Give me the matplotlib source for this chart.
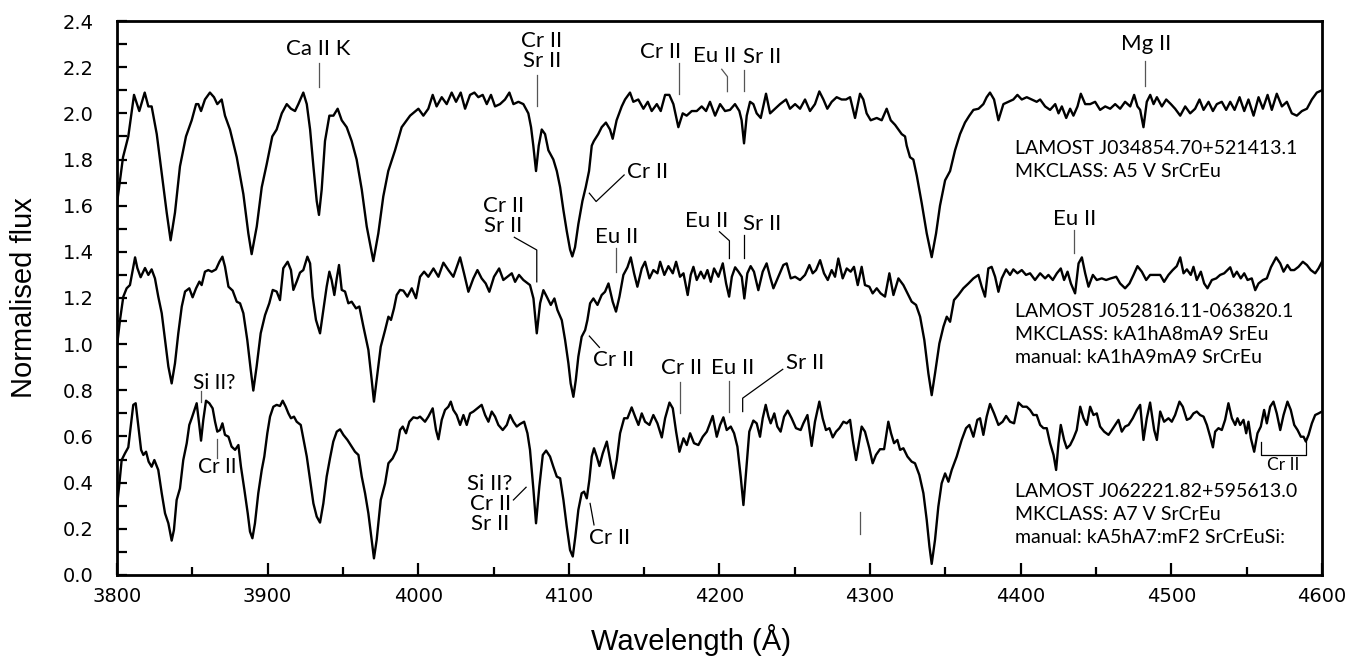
import matplotlib
matplotlib.use("Agg")
import matplotlib.pyplot as plt
from matplotlib.ticker import MultipleLocator, FormatStrFormatter

# Espectro superior: LAMOST J034854.70+521413.1
wl1 = [3800, 3804, 3807.5, 3811.3, 3814.8, 3818.4, 3820.8, 3823, 3826.4, 3829.7, 3833, 3835.6,
       3838.5, 3841.8, 3845.8, 3849.6, 3852.5, 3854, 3855.8, 3858.4, 3861.7, 3864.4, 3866.6, 3869.5,
       3871.7, 3875, 3879.5, 3883.9, 3887.2, 3889.4, 3892.8, 3896.1, 3899.4, 3903.1, 3906, 3909.4,
       3912.7, 3915.5, 3918.2, 3920.4, 3923.7, 3926, 3928.2, 3930.4, 3932.6, 3934.1, 3935.9, 3938.1,
       3941, 3943.7, 3946.5, 3949.2, 3952.5, 3955.8, 3959.1, 3962.5, 3965.8, 3970.2, 3973.5, 3976.8,
       3980.1, 3984.6, 3989, 3994.6, 4000.1, 4003.4, 4006.7, 4009.6, 4012.2,
       4015.6, 4018.9, 4022.2, 4025.1, 4028.2, 4031.1, 4034.4, 4037.3, 4039.9, 4042.8, 4045.5, 4048.3,
       4051, 4054.3, 4057.6, 4060.5, 4063.2, 4066.5, 4069.8, 4073.1, 4074.9, 4076.4, 4078.2, 4080,
       4082, 4084.2, 4086.4, 4089.7, 4092, 4094.2, 4096.4, 4098.6, 4100.8, 4102.3, 4104.1, 4106.3,
       4109, 4111.2, 4113.4, 4115.2, 4116.6, 4119.5, 4121.8, 4124.6, 4127.3, 4129.1, 4131.7, 4135.1,
       4137.3, 4140.6, 4142.8, 4146.1, 4149.5, 4152.4, 4155, 4158.4, 4161, 4163.9, 4166.7, 4169.4,
       4172.7, 4175.6, 4178.2, 4181.6, 4184.9, 4188.2, 4191.1, 4193.7, 4197.1, 4200.4, 4203.7,
       4207, 4210.3, 4213.2, 4214.7, 4216.3, 4218.1, 4220.3, 4222.5, 4224.7, 4227.4, 4230.9, 4233.6,
       4236.9, 4240.2, 4244.2, 4246.8, 4250.2, 4253.5, 4256.8, 4260.1, 4263.4, 4266.3, 4269, 4271.6,
       4274.5, 4277.8, 4281.1, 4284, 4286.7, 4290, 4293.3, 4295.5, 4297.7, 4300.4, 4304.4, 4307.7,
       4311, 4313.7, 4316.6, 4318.8, 4321, 4323.2, 4324.3, 4326.5, 4328.7, 4331, 4334.3, 4337.6,
       4340.9, 4343.8, 4346.4, 4349.8, 4353.1, 4356.4, 4359.7, 4363, 4365.9, 4368.6, 4372, 4375.2,
       4377.4, 4379.6, 4382.3, 4385.2, 4388.5, 4391.8, 4395.1, 4397.8, 4400.7, 4404, 4407.3, 4410.6,
       4412.9, 4416.2, 4419.5, 4422.9, 4425.1, 4427.3, 4430.2, 4432.8, 4435, 4437.7, 4439.9, 4442.8,
       4446.1, 4449.4, 4452.7, 4456.1, 4459.4, 4462.7, 4466, 4469.3, 4472.7, 4475.3, 4477.5, 4479.3,
       4481.5, 4483.7, 4486, 4488.2, 4490.4, 4493.7, 4496.6, 4499.7, 4502.5, 4505.9, 4509.2, 4512.5,
       4515.8, 4518.7, 4521.4, 4524.7, 4527.6, 4530.2, 4533.5, 4536.4, 4539.1, 4542, 4545.3, 4548.4,
       4551.2, 4554.6, 4557.9, 4560.8, 4563.9, 4566.7, 4570, 4573.4, 4576.7, 4580, 4583.3, 4586.7,
       4590, 4593.3, 4596.6, 4600]
f1 = [1.61, 1.81, 1.90, 2.08, 2.01, 2.09, 2.03, 2.03, 1.91, 1.74, 1.57, 1.45,
      1.57, 1.77, 1.90, 1.97, 2.04, 2.04, 2.01, 2.06, 2.09, 2.07, 2.04, 2.06,
      1.99, 1.93, 1.81, 1.65, 1.48, 1.39, 1.51, 1.68, 1.78, 1.90, 1.93, 2.00,
      2.04, 2.02, 2.01, 2.04, 2.09, 2.04, 1.93, 1.77, 1.62, 1.56, 1.67, 1.88,
      1.99, 1.99, 2.02, 1.97, 1.94, 1.88, 1.80, 1.67, 1.51, 1.36, 1.48, 1.64,
      1.75, 1.84, 1.94, 1.99, 2.02, 1.99, 2.02, 2.08, 2.03,
      2.07, 2.04, 2.09, 2.05, 2.09, 2.02, 2.08, 2.09, 2.07, 2.08, 2.04, 2.08,
      2.03, 2.04, 2.06, 2.09, 2.04, 2.05, 2.04, 2.00, 1.94, 1.86, 1.75, 1.86,
      1.93, 1.91, 1.84, 1.80, 1.75, 1.68, 1.58, 1.49, 1.41, 1.38, 1.42, 1.52,
      1.62, 1.68, 1.75, 1.86, 1.88, 1.91, 1.94, 1.96, 1.93, 1.89, 1.97, 2.03,
      2.06, 2.09, 2.05, 2.06, 2.02, 2.05, 2.01, 2.04, 2.01, 2.08, 2.08, 2.04,
      1.94, 2.00, 1.99, 2.01, 2.01, 2.03, 2.01, 2.05, 1.99, 2.04, 2.01,
      2.015, 2.04, 2.01, 1.97, 1.87, 1.99, 2.05, 2.04, 2.00, 1.98, 2.085, 2.00,
      2.02, 2.04, 2.06, 2.02, 2.04, 2.02, 2.06, 2.01, 2.04, 2.095, 2.06, 2.02,
      2.05, 2.07, 2.06, 2.06, 2.07, 1.98, 2.085, 2.06, 2.00, 1.97, 1.98, 1.97,
      2.02, 1.97, 1.95, 1.93, 1.91, 1.90, 1.86, 1.81, 1.80, 1.73, 1.61, 1.48,
      1.377, 1.48, 1.60, 1.71, 1.75, 1.84, 1.91, 1.96, 1.99, 2.015, 2.02, 2.04,
      2.07, 2.09, 2.06, 1.97, 2.04, 2.05, 2.06, 2.08, 2.06, 2.07, 2.06, 2.05,
      2.06, 2.03, 2.015, 2.04, 2.00, 2.03, 1.98, 2.02, 1.99, 2.03, 2.085, 2.04,
      2.04, 2.05, 2.015, 2.03, 2.02, 2.04, 2.02, 2.05, 2.03, 2.08, 2.03, 2.015,
      1.94, 2.05, 2.08, 2.04, 2.07, 2.03, 2.06, 2.04, 2.02, 1.99, 2.03, 2.00,
      2.02, 2.06, 2.015, 2.05, 2.01, 2.04, 2.05, 2.015, 2.05, 2.015, 2.07, 2.01,
      2.06, 1.99, 2.07, 2.02, 2.08, 2.015, 2.085, 2.03, 2.05, 2.00, 1.99, 2.01,
      2.02, 2.06, 2.09, 2.10]

# Espectro central: LAMOST J052816.11-063820.1
wl2 = [3800.2, 3802, 3804.2, 3806.4, 3808.6, 3810.4, 3812, 3813.5, 3815.7, 3818.6, 3820.8, 3823,
       3825.2, 3827.4, 3829.7, 3831.9, 3834.1, 3836.3, 3838.5, 3840.7, 3843, 3845.2, 3848, 3850.2,
       3852.5, 3854.7, 3856.2, 3858.4, 3860.6, 3862.9, 3865.7, 3868, 3870, 3871.7, 3874, 3876.8,
       3879.5, 3881.7, 3883.9, 3886.5, 3888.8, 3890.5, 3892.7, 3895.4, 3898.3, 3901.1, 3903.4, 3906,
       3908.2, 3910.4, 3913.3, 3915.5, 3917.1, 3919.3, 3921.5, 3923.7, 3926.4, 3928.2, 3929.9, 3932.1,
       3934.8, 3937, 3939.2, 3941, 3942.5, 3944.3, 3945.9, 3947.4, 3949.2, 3951.4, 3953.6, 3955.8,
       3958.7, 3960.9, 3963.6, 3966.9, 3969.1, 3970.6, 3972.4, 3975.1, 3978, 3980.2, 3981.9, 3983.9,
       3985.7, 3987.9, 3990.1, 3992.8, 3995.7, 3998.5,
       4001.2, 4003.9, 4006.7, 4010.1, 4013.4, 4016.7, 4020, 4023.3, 4027.8, 4030.4, 4033.3, 4036.6,
       4039.3, 4042.1, 4044.8, 4047.2, 4050.3, 4053.7, 4056.5, 4059.2, 4062.1, 4064.3, 4066.9, 4069.8,
       4074.2, 4076.5, 4078.7, 4080.9, 4083.1, 4085.3, 4088, 4090.4, 4092.4, 4095.3, 4097.5, 4099.7,
       4101.2, 4103, 4104.6, 4106.3, 4108.5, 4110.8, 4112.3, 4114.1, 4116.3, 4119, 4121.8, 4124,
       4126.3, 4129.1, 4131.3, 4133.6, 4136.2, 4138.9, 4141.1, 4143.3, 4145.5, 4148.4, 4150.6, 4153.5,
       4156.1, 4158.8, 4160.6, 4163.4, 4166.1, 4169, 4171.2, 4173.8, 4176.1, 4178.9, 4180.9, 4182.7,
       4184.9, 4187.6, 4189.8, 4192, 4194.2, 4196.4, 4199.3, 4202.2, 4204.4, 4206.4, 4208.2, 4210.4,
       4212.6, 4214.8,
       4216.5, 4218.5, 4220.7, 4222.9, 4225.8, 4228.7, 4231.3, 4233.6, 4235.8, 4239.1, 4242.4, 4244.6,
       4247.3, 4250.2, 4253.5, 4256.8, 4259.7, 4261.9, 4264.1, 4266.8, 4269.4, 4271.9, 4274.5, 4276.7,
       4278.9, 4281.8, 4284.5, 4287.1, 4289.3, 4291.8, 4294.4, 4296.6, 4299.5, 4301.7, 4304.4, 4307,
       4309.9, 4312.8, 4315.5, 4318.8, 4322.1, 4325.4, 4327.6, 4330.5, 4333.2, 4336, 4338.7, 4340.9,
       4343.1, 4346, 4348.7, 4350.9, 4353.1, 4355.7, 4358.6, 4361.9, 4365.3, 4368.6, 4371.9, 4374.1,
       4376.3, 4378.5, 4380.7, 4383, 4385.2, 4387.4, 4390.3, 4392.9, 4395.1, 4397.8, 4400.7, 4403.5,
       4406.2, 4409.5,
       4412.9, 4416.2, 4418.4, 4421.3, 4424, 4426.6, 4428.8, 4431.1, 4433.3, 4436.1, 4438.4, 4440.6,
       4442.8, 4445, 4447.9, 4450.5, 4453.8, 4456.7, 4459.8, 4463.4, 4466, 4469.3, 4472.2, 4474.9,
       4477.5, 4480.4, 4483.3, 4485.9, 4489.3, 4492.6, 4495.2, 4498.1, 4500.9, 4503.6, 4505.9, 4508.1,
       4510.3, 4512.9, 4514.7, 4516.9, 4519.6, 4521.8, 4524, 4526.9, 4529.8, 4532.4, 4535.1, 4537.3,
       4539.1, 4541.3, 4543.5, 4546.1, 4548.4, 4550.6, 4553.4, 4555.7, 4557.9, 4560.8, 4563.4, 4566.1,
       4569.6, 4572.3, 4574.5, 4577.1, 4579.3, 4581.6, 4584.4, 4587.3, 4590, 4592.6, 4595.5, 4597.7,
       4600]
f2 = [1.004, 1.105, 1.206, 1.242, 1.256, 1.32, 1.376, 1.33, 1.29, 1.33, 1.30, 1.324,
      1.285, 1.206, 1.134, 1.018, 0.903, 0.83, 0.917, 1.047, 1.163, 1.228, 1.242, 1.203,
      1.242, 1.271, 1.256, 1.314, 1.321, 1.314, 1.324, 1.357, 1.379, 1.336, 1.249, 1.232,
      1.184, 1.177, 1.134, 1.018, 0.888, 0.799, 0.903, 1.047, 1.126, 1.177, 1.235, 1.228,
      1.191, 1.329, 1.357, 1.321, 1.235, 1.271, 1.31, 1.321, 1.379, 1.35, 1.206, 1.105,
      1.047, 1.148, 1.249, 1.314, 1.278, 1.213, 1.285, 1.343, 1.235, 1.228, 1.177, 1.184,
      1.155, 1.163, 1.076, 0.975, 0.845, 0.751, 0.845, 0.989, 1.061, 1.119, 1.105, 1.155,
      1.213, 1.235, 1.232, 1.206, 1.242, 1.199,
      1.292, 1.314, 1.292, 1.328, 1.292, 1.353, 1.321, 1.292, 1.376, 1.307, 1.227, 1.285,
      1.321, 1.285, 1.263, 1.227, 1.292, 1.328, 1.278, 1.292, 1.307, 1.27, 1.30, 1.278,
      1.256, 1.198, 1.047, 1.177, 1.234, 1.206, 1.17, 1.198, 1.148, 1.104, 1.018, 0.917,
      0.83, 0.772, 0.844, 0.946, 1.032, 1.061, 1.104, 1.177, 1.198, 1.17, 1.213, 1.227,
      1.263, 1.184, 1.141, 1.206, 1.30, 1.333, 1.376, 1.307, 1.249, 1.328, 1.357, 1.285,
      1.321, 1.307, 1.357, 1.30, 1.338, 1.307, 1.357, 1.292, 1.307, 1.213, 1.30, 1.335,
      1.278, 1.314, 1.285, 1.321, 1.27, 1.328, 1.292, 1.35, 1.263, 1.206, 1.292, 1.333,
      1.314, 1.292,
      1.198, 1.307, 1.338, 1.314, 1.234, 1.314, 1.35, 1.292, 1.242, 1.292, 1.343, 1.35,
      1.285, 1.292, 1.278, 1.30, 1.343, 1.307, 1.321, 1.364, 1.307, 1.278, 1.321, 1.292,
      1.371, 1.285, 1.328, 1.314, 1.335, 1.256, 1.335, 1.256, 1.249, 1.22, 1.242, 1.22,
      1.206, 1.307, 1.213, 1.285, 1.256, 1.213, 1.184, 1.17, 1.119, 1.018, 0.873, 0.779,
      0.873, 1.003, 1.076, 1.119, 1.097, 1.191, 1.213, 1.242, 1.263, 1.285, 1.30, 1.249,
      1.206, 1.328, 1.335, 1.292, 1.227, 1.285, 1.324, 1.30, 1.324, 1.307, 1.321, 1.30,
      1.307, 1.278,
      1.307, 1.285, 1.30, 1.278, 1.307, 1.328, 1.278, 1.314, 1.263, 1.22, 1.35, 1.376,
      1.307, 1.249, 1.30, 1.278, 1.285, 1.278, 1.285, 1.292, 1.263, 1.242, 1.263, 1.30,
      1.338, 1.314, 1.278, 1.30, 1.30, 1.30, 1.27, 1.30, 1.321, 1.338, 1.376, 1.307,
      1.324, 1.30, 1.335, 1.278, 1.314, 1.263, 1.242, 1.278, 1.285, 1.30, 1.307, 1.321,
      1.333, 1.292, 1.314, 1.285, 1.307, 1.278, 1.285, 1.234, 1.263, 1.278, 1.285, 1.333,
      1.376, 1.35, 1.314, 1.343, 1.321, 1.321, 1.335, 1.357, 1.343, 1.321, 1.307, 1.328,
      1.357]

# Espectro inferior: LAMOST J062221.82+595613.0
wl3 = [3800.2, 3801.6, 3803.1, 3805.3, 3807.5, 3809.1, 3810.8, 3812.4, 3814.2, 3816, 3817.5, 3819.3,
       3821, 3823, 3824.8, 3827.4, 3829.7, 3831.9, 3834.1, 3836.3, 3837.8, 3839.6, 3841.8, 3844,
       3846.3, 3848, 3849.6, 3851.1, 3852.9, 3854.5, 3855.8, 3857.3, 3859.1, 3861.3, 3863.5, 3865.1,
       3866.6, 3868.4, 3870, 3871.7, 3874, 3876.1, 3878.4, 3880.6, 3882.3, 3884.6, 3886.8, 3888.3,
       3889.9, 3891.6, 3893.8, 3896.1, 3897.8, 3899.8, 3901.6, 3903.8, 3906, 3908.2, 3910, 3912,
       3913.8, 3915.5, 3917.5, 3919.3, 3922, 3923.7, 3926, 3928.2, 3930.4, 3932.6, 3934.8, 3937,
       3939.2, 3941.4, 3943.6, 3945.9, 3948.1, 3950.3, 3953, 3955.8, 3958, 3960.3, 3962.5, 3964.7,
       3966.9, 3969.1, 3970.6, 3972.4, 3975.1, 3978, 3980.2, 3983, 3985.7, 3987.9, 3989.7, 3991.9,
       3994.1, 3996.8, 3999.4,
       4001.2, 4004.5, 4006.7, 4009.6, 4011.8, 4013.4, 4015.6, 4017.8, 4020, 4021.6, 4023.3, 4025.5,
       4027.8, 4030, 4032.2, 4034.4, 4036.6, 4039.3, 4042.1, 4044.4, 4046.6, 4048.8, 4051, 4053.2,
       4056.1, 4058.8, 4061, 4063.2, 4065.4, 4067.6, 4070.3, 4072.5, 4074.2, 4076.5, 4078.2, 4080.4,
       4082.7, 4084.9, 4087.5, 4089.7, 4092, 4094.2, 4096.4, 4098.6, 4100.8, 4102.6, 4104.3, 4106.3,
       4108.5, 4110.1, 4111.9, 4113.6, 4115.2, 4116.7, 4118.5, 4120.3, 4122.5, 4125.2, 4127.4, 4129.6,
       4131.8, 4134, 4136.7, 4138.9, 4141.7, 4144, 4146.2, 4148.4, 4150.6, 4153.5, 4156.1, 4158.8,
       4161.7, 4163.9, 4166.8, 4169, 4171.2, 4173.4, 4176.1, 4178.3, 4180.5, 4183.1, 4186, 4188.9,
       4191.6, 4193.3, 4195.5, 4198.2, 4200.4, 4202.6, 4204.8, 4207.5, 4209.7,
       4211.9, 4214.1, 4215.9, 4217.6, 4219.8, 4222.5, 4224.7, 4226.9, 4228.7, 4230.7, 4232.5, 4234,
       4236.4, 4238.4, 4240.6, 4242.9, 4245.3, 4247.9, 4250.8, 4253.9, 4255.7, 4258.4, 4261.2, 4263.4,
       4266.3, 4268.5, 4270.7, 4273, 4275.2, 4277.4, 4279.6, 4282.3, 4284.5, 4286.7, 4288.5, 4290.7,
       4292.9, 4294.4, 4296.6, 4299.5, 4301.7, 4303.9, 4306.6, 4309.3, 4312.1, 4313.9, 4315.9, 4318.1,
       4319.9, 4322.1, 4324.8, 4327.6, 4329.8, 4332.7, 4335.4, 4337.6, 4339.4, 4340.9, 4343.1, 4345.3,
       4347.5, 4349.8, 4352, 4354.2, 4357.5, 4360.8, 4363.7, 4365.9, 4368.6, 4371.2, 4373, 4375.2,
       4377.4, 4379.6, 4382.3, 4385.2, 4388, 4390.3, 4392.9, 4395.6, 4398.5, 4401.3, 4404, 4406.2,
       4408.4, 4410.6,
       4412.9, 4415.1, 4417.3, 4419.5, 4421.8, 4423.5, 4425.1, 4426.6, 4428.8, 4430.6, 4432.8, 4435,
       4437.2, 4439.5, 4441.7, 4443.9, 4446.1, 4448.3, 4450.5, 4452.7, 4455.4, 4458.3, 4460.5, 4462.7,
       4464.9, 4467.1, 4469.3, 4471.6, 4474.4, 4477.1, 4479.3, 4481.5, 4483.7, 4485.9, 4488.6, 4490.4,
       4492.6, 4495.2, 4498.1, 4500.3, 4502.5, 4505.4, 4507.6, 4510.3, 4512.5, 4514.7, 4516.9, 4519.1,
       4521.4, 4523.6, 4525.8, 4527.6, 4529.1, 4531.3, 4533.5, 4535.7, 4537.9, 4540.2, 4542.4, 4543.9,
       4545.7, 4547.9, 4549.7, 4551.2, 4552.8, 4555, 4557.2, 4559.4, 4561.6, 4563.4, 4565.6, 4567.8,
       4570, 4572.3, 4574.5, 4577.1, 4579.3, 4581.6, 4583.8, 4586, 4587.8, 4589.3, 4591.1, 4593.3,
       4595.5, 4597.7, 4600]
f3 = [0.31, 0.397, 0.498, 0.527, 0.553, 0.643, 0.737, 0.744, 0.643, 0.542, 0.52, 0.534,
      0.491, 0.469, 0.498, 0.455, 0.354, 0.267, 0.224, 0.149, 0.195, 0.325, 0.375, 0.498,
      0.571, 0.65, 0.679, 0.708, 0.744, 0.657, 0.582, 0.672, 0.755, 0.744, 0.722, 0.664,
      0.621, 0.628, 0.657, 0.607, 0.599, 0.556, 0.542, 0.563, 0.469, 0.368, 0.267, 0.188,
      0.159, 0.224, 0.354, 0.455, 0.513, 0.614, 0.686, 0.729, 0.737, 0.732, 0.755, 0.729,
      0.70, 0.679, 0.686, 0.664, 0.65, 0.592, 0.513, 0.411, 0.31, 0.253, 0.227, 0.31,
      0.426, 0.505, 0.578, 0.621, 0.631, 0.607, 0.585, 0.556, 0.534, 0.52, 0.426, 0.354,
      0.267, 0.152, 0.072, 0.152, 0.325, 0.397, 0.484, 0.505, 0.542, 0.628, 0.643, 0.614,
      0.664, 0.683, 0.679,
      0.686, 0.664, 0.686, 0.722, 0.628, 0.588, 0.672, 0.715, 0.729, 0.751, 0.715, 0.693,
      0.65, 0.693, 0.65, 0.70, 0.708, 0.722, 0.737, 0.693, 0.664, 0.708, 0.686, 0.65,
      0.628, 0.65, 0.693, 0.664, 0.643, 0.654, 0.664, 0.614, 0.542, 0.368, 0.224, 0.383,
      0.52, 0.539, 0.513, 0.469, 0.426, 0.419, 0.325, 0.21, 0.108, 0.08, 0.166, 0.282,
      0.354, 0.361, 0.332, 0.411, 0.513, 0.549, 0.513, 0.472, 0.527, 0.578, 0.498, 0.419,
      0.498, 0.614, 0.679, 0.679, 0.726, 0.686, 0.65, 0.70, 0.664, 0.65, 0.693, 0.657,
      0.596, 0.679, 0.747, 0.722, 0.621, 0.534, 0.592, 0.563, 0.614, 0.571, 0.563, 0.599,
      0.621, 0.65, 0.689, 0.599, 0.65, 0.683, 0.628, 0.643, 0.614,
      0.556, 0.426, 0.303, 0.44, 0.621, 0.669, 0.657, 0.599, 0.679, 0.737, 0.686, 0.657,
      0.70, 0.643, 0.621, 0.686, 0.712, 0.679, 0.636, 0.628, 0.657, 0.693, 0.559, 0.664,
      0.751, 0.679, 0.628, 0.636, 0.596, 0.621, 0.636, 0.664, 0.657, 0.672, 0.585, 0.498,
      0.585, 0.643, 0.621, 0.549, 0.484, 0.52, 0.545, 0.545, 0.664, 0.614, 0.571, 0.585,
      0.542, 0.549, 0.513, 0.491, 0.484, 0.433, 0.354, 0.238, 0.123, 0.048, 0.152, 0.296,
      0.397, 0.44, 0.404, 0.455, 0.513, 0.585, 0.636, 0.65, 0.599, 0.672, 0.679, 0.607,
      0.686, 0.741, 0.70, 0.65, 0.664, 0.689, 0.664, 0.657, 0.747, 0.729, 0.729, 0.715,
      0.693, 0.693,
      0.65, 0.636, 0.636, 0.571, 0.52, 0.455, 0.571, 0.65, 0.585, 0.549, 0.563, 0.592,
      0.628, 0.729, 0.679, 0.65, 0.729, 0.693, 0.70, 0.643, 0.621, 0.607, 0.628, 0.65,
      0.672, 0.621, 0.643, 0.65, 0.679, 0.715, 0.737, 0.585, 0.679, 0.747, 0.628, 0.585,
      0.708, 0.664, 0.679, 0.664, 0.693, 0.751, 0.729, 0.672, 0.679, 0.70, 0.708, 0.693,
      0.686, 0.65, 0.599, 0.553, 0.621, 0.636, 0.628, 0.672, 0.744, 0.679, 0.65, 0.679,
      0.65, 0.672, 0.614, 0.664, 0.592, 0.534, 0.614, 0.643, 0.715, 0.657, 0.729, 0.751,
      0.70, 0.628, 0.693, 0.751, 0.715, 0.65, 0.628, 0.599, 0.599, 0.578, 0.607, 0.657,
      0.693, 0.70, 0.708]

# Textos de identificación de cada espectro
etiqueta1 = ["LAMOST J034854.70+521413.1", "MKCLASS: A5 V SrCrEu"]
etiqueta2 = ["LAMOST J052816.11-063820.1", "MKCLASS: kA1hA8mA9 SrEu", "manual: kA1hA9mA9 SrCrEu"]
etiqueta3 = ["LAMOST J062221.82+595613.0", "MKCLASS: A7 V SrCrEu", "manual: kA5hA7:mF2 SrCrEuSi:"]

fuente = "Lato"
fig = plt.figure(figsize=(13.62, 6.59), dpi=100)
ax = fig.add_axes([0.0859, 0.1275, 0.8847, 0.8406])

for wl, fl in [(wl1, f1), (wl2, f2), (wl3, f3)]:
    ax.plot(wl, fl, color="black", lw=1.7, solid_joinstyle="round")

ax.set_xlim(3800, 4600)
ax.set_ylim(0, 2.4)
ax.xaxis.set_major_locator(MultipleLocator(100))
ax.xaxis.set_minor_locator(MultipleLocator(50))
ax.yaxis.set_major_locator(MultipleLocator(0.2))
ax.yaxis.set_minor_locator(MultipleLocator(0.1))
ax.yaxis.set_major_formatter(FormatStrFormatter("%.1f"))
ax.tick_params(which="both", direction="in", top=False, right=False, width=1.6,
               labelsize=14, labelfontfamily="DejaVu Sans")
ax.tick_params(axis="x", which="major", length=9, pad=9)
ax.tick_params(axis="x", which="minor", length=6)
ax.tick_params(axis="y", which="major", length=7, pad=17)
ax.tick_params(axis="y", which="minor", length=7)
for s in ax.spines.values():
    s.set_linewidth(2)
ax.set_xlabel("Wavelength (Å)", fontsize=21, family="Liberation Sans", va="center")
ax.set_ylabel("Normalised flux", fontsize=21, family="Liberation Sans", va="center")
ax.xaxis.set_label_coords(0.476, -0.117)
ax.yaxis.set_label_coords(-0.077, 0.5)

gris = "#555555"
def marca(x, y0, y1, color=gris):
    ax.plot([x, x], [y0, y1], color=color, lw=0.9)

def texto(x, y, s, ha="center", size=16):
    ax.text(x, y, s, ha=ha, va="center", fontsize=size, family=fuente, linespacing=1.0)

# Líneas del espectro superior
texto(3933.5, 2.28, "Ca II K")
marca(3934, 2.114, 2.218)
texto(4082, 2.27, "Cr II\nSr II")
marca(4079, 2.03, 2.166)
texto(4160.6, 2.266, "Cr II")
marca(4173.4, 2.084, 2.217)
texto(4197.1, 2.25, "Eu II")
ax.plot([4201.5, 4205.3, 4205.3], [2.191, 2.159, 2.094], color=gris, lw=0.9)
texto(4228.5, 2.243, "Sr II")
marca(4216.5, 2.095, 2.188)
texto(4483.3, 2.30, "Mg II")
marca(4482.2, 2.119, 2.225)
ax.plot([4113.6, 4118.1, 4136.7], [1.654, 1.618, 1.733], color="black", lw=0.9)
texto(4138.4, 1.747, "Cr II", ha="left")

# Líneas del espectro central
texto(4056.5, 1.557, "Cr II\nSr II")
ax.plot([4063.8, 4078.7, 4078.7], [1.463, 1.408, 1.27], color="black", lw=0.9)
texto(4131.8, 1.466, "Eu II")
marca(4131.1, 1.314, 1.415)
ax.plot([4113.6, 4120.3], [1.035, 0.986], color="black", lw=0.9)
texto(4116.3, 0.932, "Cr II", ha="left")
texto(4191.3, 1.535, "Eu II")
ax.plot([4200, 4206.6, 4206.6], [1.487, 1.448, 1.371], color="black", lw=0.9)
texto(4228, 1.521, "Sr II")
marca(4216.5, 1.372, 1.473, color="black")
texto(4436.1, 1.541, "Eu II")
marca(4435.7, 1.393, 1.494)

# Líneas del espectro inferior
texto(3864.4, 0.832, "Si II?", size=15)
marca(3855.8, 0.751, 0.797)
texto(3866.4, 0.467, "Cr II", size=15)
marca(3866.6, 0.506, 0.588)
texto(4047.7, 0.308, "Si II?\nCr II\nSr II")
ax.plot([4063.2, 4071.6], [0.325, 0.38], color="black", lw=0.9)
texto(4113.6, 0.159, "Cr II", ha="left")
ax.plot([4114.1, 4116.7], [0.31, 0.217], color="black", lw=0.9)
texto(4174.5, 0.896, "Cr II")
marca(4173.8, 0.70, 0.838)
texto(4209, 0.896, "Eu II")
marca(4206.4, 0.708, 0.842)
texto(4256.8, 0.917, "Sr II")
ax.plot([4242, 4215.4, 4215.4], [0.891, 0.766, 0.708], color="black", lw=0.9)
marca(4293.3, 0.178, 0.274)
ax.plot([4559.4, 4559.4, 4589.3, 4589.3], [0.578, 0.52, 0.52, 0.578], color="black", lw=0.9)
texto(4574, 0.477, "Cr II", size=12.5)

# Identificaciones de las estrellas
for etiqueta, y0 in [(etiqueta1, 1.849), (etiqueta2, 1.141), (etiqueta3, 0.361)]:
    for i, linea in enumerate(etiqueta):
        ax.text(4396.3, y0 - i * 0.1, linea, ha="left", va="center", fontsize=14, family=fuente)

fig.savefig("out.png", dpi=100)
